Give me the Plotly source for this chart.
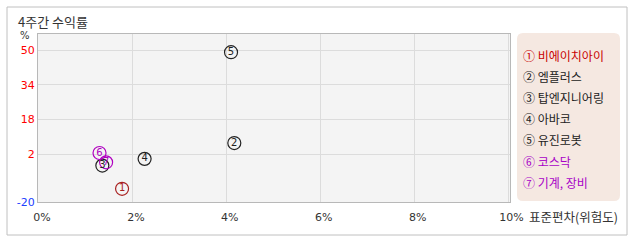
import plotly.graph_objects as go

names = ["비에이치아이", "엠플러스", "탑엔지니어링", "아바코", "유진로봇", "코스닥", "기계, 장비"]
labels = ["1", "2", "3", "4", "5", "6", "7"]
circled = ["①", "②", "③", "④", "⑤", "⑥", "⑦"]
risk = [1.77, 4.16, 1.35, 2.25, 4.09, 1.29, 1.43]
ret = [-13.9, 7.2, -3.2, -0.1, 49.1, 2.6, -1.7]
marker_colors = ["#a82020", "#222222", "#222222", "#222222", "#222222", "#b000c0", "#b000c0"]
legend_colors = ["#c80000", "#222222", "#222222", "#222222", "#222222", "#a800c8", "#a800c8"]
y_ticks = [-20, 2, 18, 34, 50]
x_ticks = [0, 2, 4, 6, 8, 10]

W, H = 638, 242
L, R, T, B = 38, 510, 34, 202

fig = go.Figure()
fig.add_trace(go.Scatter(
    x=risk, y=ret, mode="markers+text", text=labels,
    textposition="middle center",
    textfont=dict(family="DejaVu Sans", size=10, color=marker_colors),
    marker=dict(symbol="circle-open", size=13, color=marker_colors, line=dict(width=1.2, color=marker_colors)),
    showlegend=False, cliponaxis=False,
))

def px(x):
    return (x - L) / (R - L)

def py(y):
    return (B - y) / (B - T)

shapes = []
shapes.append(dict(type="rect", xref="paper", yref="paper", x0=px(7), x1=px(627), y0=py(235), y1=py(7),
                   line=dict(color="#c0c0c0", width=1), fillcolor="rgba(0,0,0,0)", layer="below"))
x0, x1, y0, y1, r = 517, 620, 33, 201, 6
path = (f"M {px(x0+r)},{py(y0)} L {px(x1-r)},{py(y0)} Q {px(x1)},{py(y0)} {px(x1)},{py(y0+r)} "
        f"L {px(x1)},{py(y1-r)} Q {px(x1)},{py(y1)} {px(x1-r)},{py(y1)} "
        f"L {px(x0+r)},{py(y1)} Q {px(x0)},{py(y1)} {px(x0)},{py(y1-r)} "
        f"L {px(x0)},{py(y0+r)} Q {px(x0)},{py(y0)} {px(x0+r)},{py(y0)} Z")
shapes.append(dict(type="path", xref="paper", yref="paper", path=path,
                   line=dict(width=0), fillcolor="#f5e8e1", layer="below"))

annotations = []
annotations.append(dict(text="4주간 수익률", xref="paper", yref="paper", x=px(16), y=py(21),
                        xanchor="left", yanchor="middle", showarrow=False,
                        font=dict(family="Noto Sans CJK KR", size=13, color="#333333")))
annotations.append(dict(text="%", xref="paper", yref="paper", x=px(25), y=py(35),
                        xanchor="center", yanchor="middle", showarrow=False,
                        font=dict(family="DejaVu Sans", size=10, color="#333333")))
annotations.append(dict(text="표준편차(위험도)", xref="paper", yref="paper", x=px(527), y=py(216),
                        xanchor="left", yanchor="middle", showarrow=False,
                        font=dict(family="Noto Sans CJK KR", size=12.5, color="#333333")))
for i, (c, n) in enumerate(zip(circled, names)):
    annotations.append(dict(text=c + " " + n, xref="paper", yref="paper", x=px(521), y=py(55 + i * 21.2),
                            xanchor="left", yanchor="middle", showarrow=False,
                            font=dict(family="Noto Sans CJK KR", size=12, color=legend_colors[i])))

ytext = []
for v in y_ticks:
    col = "#2040ff" if v < 0 else "#ff0000"
    ytext.append(f"<span style='color:{col}'>{v}</span>")

fig.update_layout(
    width=W, height=H, margin=dict(l=L, r=W - R, t=T, b=H - B),
    paper_bgcolor="white", plot_bgcolor="#f4f4f4",
    shapes=shapes, annotations=annotations,
    xaxis=dict(range=[-0.02, 10.03], tickvals=x_ticks, ticktext=[f"{v}%" for v in x_ticks],
               showgrid=True, gridcolor="#dcdcdc", gridwidth=1, zeroline=False,
               showline=True, mirror=True, linecolor="#b8b8b8", ticks="", ticklabelstandoff=5,
               ticklabelshift=3,
               tickfont=dict(family="DejaVu Sans", size=11, color="#333333")),
    yaxis=dict(range=[-20, 57.5], tickvals=y_ticks, ticktext=ytext,
               showgrid=True, gridcolor="#dcdcdc", gridwidth=1, zeroline=False,
               showline=True, mirror=True, linecolor="#b8b8b8", ticks="",
               tickfont=dict(family="DejaVu Sans", size=11)),
)

fig.write_html("out.html")
